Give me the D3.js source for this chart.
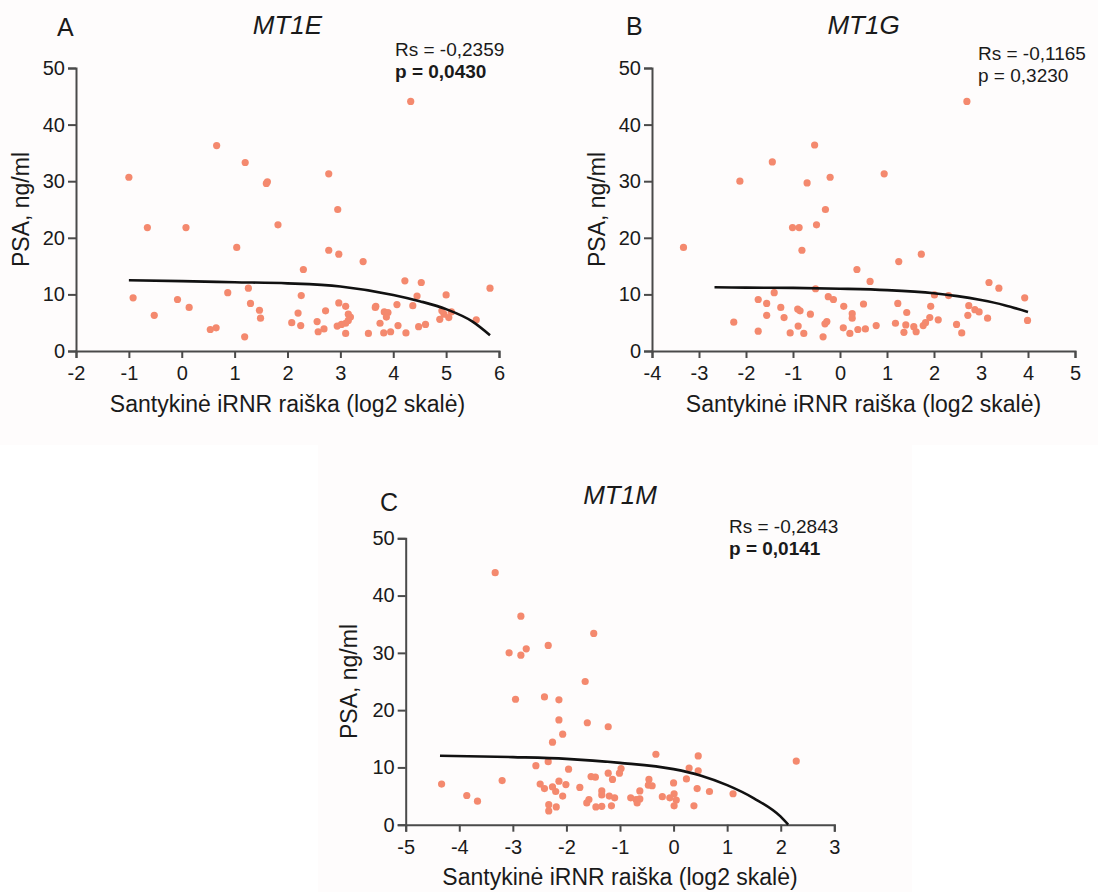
<!DOCTYPE html>
<html>
<head>
<meta charset="utf-8">
<script src="https://cdn.jsdelivr.net/npm/d3@7"></script>
<style>
  body { margin: 0; background: #ffffff; }
  svg text { font-family: "Liberation Sans", Arial, sans-serif; fill: #1a1a1a; }
</style>
</head>
<body>
<script>
// ---- data ----
var xTicksA = [-2, -1, 0, 1, 2, 3, 4, 5, 6];
var xTicksB = [-4, -3, -2, -1, 0, 1, 2, 3, 4, 5];
var xTicksC = [-5, -4, -3, -2, -1, 0, 1, 2, 3];
var yTicks = [0, 10, 20, 30, 40, 50];

var genes = ["MT1E", "MT1G", "MT1M"];
var letters = ["A", "B", "C"];
var rsText = ["Rs = -0,2359", "Rs = -0,1165", "Rs = -0,2843"];
var pText = ["p = 0,0430", "p = 0,3230", "p = 0,0141"];
var pBold = [true, false, true];

// MT1E points [log2 expression, PSA]
var pointsA = [
  [-1.0, 30.7], [0.66, 36.3], [1.2, 33.3], [1.62, 29.9], [1.6, 29.6], [4.33, 44.1],
  [2.78, 31.3], [2.95, 25.0], [-0.65, 21.8], [0.08, 21.8], [1.04, 18.3], [1.82, 22.3],
  [-0.92, 9.4], [-0.08, 9.1], [-0.52, 6.3], [0.14, 7.7], [0.87, 10.3], [1.26, 11.1],
  [1.3, 8.4], [1.47, 7.2], [1.49, 5.8], [0.54, 3.8], [0.65, 4.1], [1.19, 2.5],
  [2.78, 17.8], [2.97, 17.1], [3.43, 15.8], [2.3, 14.4], [4.22, 12.4], [4.53, 12.1],
  [5.83, 11.1], [2.26, 9.8], [4.45, 9.7], [5.0, 9.9], [2.97, 8.5], [3.1, 7.9],
  [2.72, 7.1], [3.67, 7.9], [3.66, 7.7], [4.07, 8.2], [4.37, 8.0], [3.83, 6.9],
  [3.9, 6.8], [3.87, 6.0], [2.2, 6.7], [3.15, 6.5], [3.19, 6.0], [3.15, 5.4],
  [3.1, 4.9], [3.02, 4.7], [2.94, 4.4], [2.56, 5.2], [2.08, 5.0], [2.25, 4.5],
  [2.69, 3.9], [2.58, 3.4], [3.1, 3.1], [3.53, 3.1], [3.82, 3.2], [3.95, 3.4],
  [4.09, 4.5], [4.24, 3.2], [3.75, 4.9], [4.48, 4.3], [4.61, 4.7], [4.88, 5.6],
  [4.96, 6.5], [5.05, 5.9], [5.1, 6.9], [5.57, 5.5], [4.92, 7.1]
];
// MT1G points
var pointsB = [
  [-2.13, 30.0], [-1.44, 33.4], [-0.54, 36.4], [-0.7, 29.7], [-0.21, 30.7], [-0.31, 25.0],
  [2.7, 44.1], [0.94, 31.3], [-3.33, 18.3], [-1.01, 21.8], [-0.87, 21.8], [-0.5, 22.3],
  [-0.81, 17.8], [-1.4, 10.3], [-0.52, 11.0], [-0.25, 9.6], [-1.74, 9.1], [-1.56, 8.4],
  [-1.26, 7.7], [-0.9, 7.4], [-0.85, 7.1], [-0.63, 6.5], [-1.56, 6.3], [-1.19, 5.9],
  [-2.26, 5.1], [-0.89, 4.4], [-0.32, 4.8], [-0.28, 5.2], [-1.74, 3.5], [-1.06, 3.2],
  [-0.77, 3.1], [-0.36, 2.5], [1.73, 17.1], [1.25, 15.8], [0.36, 14.4], [0.64, 12.3],
  [3.17, 12.1], [3.38, 11.1], [-0.14, 9.1], [3.93, 9.4], [2.01, 9.9], [2.31, 9.8],
  [0.08, 7.9], [0.5, 8.3], [1.23, 8.4], [1.93, 7.9], [2.74, 8.0], [2.87, 7.3],
  [2.96, 6.9], [0.26, 6.6], [0.26, 5.8], [1.42, 6.8], [2.72, 6.3], [1.91, 5.9],
  [2.09, 5.5], [3.14, 5.8], [3.99, 5.4], [1.18, 4.9], [1.4, 4.6], [0.07, 4.1],
  [0.38, 3.8], [0.54, 3.9], [0.77, 4.5], [1.57, 4.3], [1.77, 4.5], [1.82, 5.0],
  [1.62, 3.4], [1.36, 3.3], [0.21, 3.1], [2.48, 4.7], [2.59, 3.2]
];
// MT1M points
var pointsC = [
  [-3.33, 44.0], [-2.85, 36.4], [-1.49, 33.4], [-2.34, 31.3], [-3.07, 30.0], [-2.85, 29.6],
  [-2.75, 30.7], [-1.65, 25.0], [-2.41, 22.3], [-2.95, 21.9], [-2.14, 21.8], [-2.14, 18.3],
  [-1.61, 17.8], [-2.07, 15.8], [-1.22, 17.1], [-2.26, 14.4], [-4.33, 7.1], [-3.86, 5.1],
  [-3.66, 4.1], [-3.2, 7.7], [-2.57, 10.3], [-2.34, 11.0], [-1.96, 9.7], [-2.49, 7.1],
  [-2.41, 6.3], [-2.26, 6.6], [-2.14, 7.6], [-2.01, 7.0], [-2.2, 5.8], [-2.07, 5.0],
  [-2.33, 3.5], [-2.33, 2.4], [-2.19, 3.1], [-1.75, 6.5], [-1.54, 8.4], [-1.46, 8.3],
  [-1.22, 9.0], [-1.14, 7.9], [-1.58, 4.4], [-1.62, 3.8], [-1.34, 5.9], [-1.34, 5.2],
  [-1.2, 5.0], [-1.1, 4.7], [-1.45, 3.1], [-1.34, 3.2], [-1.16, 3.3], [-0.33, 12.3],
  [0.46, 12.0], [2.29, 11.1], [0.29, 9.9], [0.46, 9.4], [-0.98, 9.8], [-1.01, 9.0],
  [-0.46, 7.9], [-0.47, 6.9], [-0.4, 6.8], [0.24, 8.0], [0.0, 7.3], [-0.63, 5.9],
  [0.44, 6.3], [0.67, 5.8], [1.11, 5.4], [0.01, 5.4], [0.05, 4.3], [-0.07, 4.7],
  [-0.21, 4.9], [-0.8, 4.7], [-0.7, 4.4], [-0.68, 3.8], [-0.63, 4.5], [0.01, 3.3],
  [0.38, 3.3]
];

// fitted curves
var curveA = [[-1, 12.5], [0, 12.35], [1, 12.15], [2, 11.95], [3, 11.4], [4, 9.9], [4.5, 8.8], [5, 7.4], [5.5, 5.2], [5.83, 2.8]];
var curveB = [[-2.67, 11.25], [-2, 11.2], [-1, 11.15], [0, 11.0], [1, 10.75], [2, 10.2], [2.5, 9.7], [3, 9.0], [3.5, 8.1], [4, 6.9]];
var curveC = [[-4.36, 12.05], [-3, 11.8], [-2, 11.5], [-1, 10.8], [0, 9.7], [0.5, 8.6], [1, 6.9], [1.5, 4.6], [2, 1.4], [2.14, 0]];

// ---- layout ----
var W = 1098, H = 892;
var panels = [
  { pts: pointsA, fit: curveA, ticks: xTicksA, x0: 76, x1: 499, y0: 351, y1: 68,
    bg: [0, 0, 545, 445], letterX: 57, letterY: 36, titleY: 34, statX: 395, statY: 56, yTitleX: 29, xTitleY: 412 },
  { pts: pointsB, fit: curveB, ticks: xTicksB, x0: 652, x1: 1075, y0: 351, y1: 68,
    bg: [545, 0, 553, 445], letterX: 626, letterY: 35, titleY: 34, statX: 978, statY: 60, yTitleX: 605, xTitleY: 412 },
  { pts: pointsC, fit: curveC, ticks: xTicksC, x0: 405.7, x1: 834.3, y0: 824.7, y1: 538.3,
    bg: [318, 445, 594, 447], letterX: 380, letterY: 511, titleY: 504, statX: 729, statY: 533, yTitleX: 357, xTitleY: 885 }
];

var svg = d3.select("body").append("svg")
  .attr("width", W)
  .attr("height", H);

panels.forEach(function (p, i) {
  var x = d3.scaleLinear()
    .domain([p.ticks[0], p.ticks[p.ticks.length - 1]])
    .range([p.x0, p.x1]);
  var y = d3.scaleLinear()
    .domain([0, 50])
    .range([p.y0, p.y1]);

  svg.insert("rect", ":first-child")
    .attr("x", p.bg[0]).attr("y", p.bg[1])
    .attr("width", p.bg[2]).attr("height", p.bg[3])
    .attr("fill", "#fefcfc");

  var g = svg.append("g");

  // axes
  var xAxis = g.append("g")
    .attr("transform", "translate(0," + p.y0 + ")")
    .call(d3.axisBottom(x).tickValues(p.ticks).tickSize(7).tickPadding(8).tickFormat(d3.format("d")));
  var yAxis = g.append("g")
    .attr("transform", "translate(" + p.x0 + ",0)")
    .call(d3.axisLeft(y).tickValues(yTicks).tickSize(8).tickPadding(3));

  [xAxis, yAxis].forEach(function (ax) {
    ax.selectAll("path, line").attr("stroke", "#4a4a4a").attr("stroke-width", 2);
    ax.selectAll("text").style("font-size", "20px").attr("fill", "#1a1a1a");
  });
  // minus sign as plain hyphen like the original
  xAxis.selectAll("text").text(function (d) { return String(d); });

  // points
  g.selectAll("circle")
    .data(p.pts)
    .enter().append("circle")
    .attr("cx", function (d) { return x(d[0]); })
    .attr("cy", function (d) { return y(d[1]); })
    .attr("r", 3.6)
    .attr("fill", "#f4896e");

  // fit curve
  var line = d3.line()
    .x(function (d) { return x(d[0]); })
    .y(function (d) { return y(d[1]); })
    .curve(d3.curveMonotoneX);
  g.append("path")
    .datum(p.fit)
    .attr("d", line)
    .attr("fill", "none")
    .attr("stroke", "#111")
    .attr("stroke-width", 2.6);

  // labels
  g.append("text")
    .attr("x", p.letterX).attr("y", p.letterY)
    .style("font-size", "25px")
    .text(letters[i]);

  g.append("text")
    .attr("x", (p.x0 + p.x1) / 2).attr("y", p.titleY)
    .attr("text-anchor", "middle")
    .style("font-size", "26px")
    .style("font-style", "italic")
    .text(genes[i]);

  g.append("text")
    .attr("x", p.statX).attr("y", p.statY)
    .style("font-size", "19px")
    .text(rsText[i]);
  g.append("text")
    .attr("x", p.statX).attr("y", p.statY + 22)
    .style("font-size", "19px")
    .style("font-weight", pBold[i] ? "bold" : "normal")
    .text(pText[i]);

  g.append("text")
    .attr("transform", "translate(" + p.yTitleX + "," + (p.y0 + p.y1) / 2 + ") rotate(-90)")
    .attr("text-anchor", "middle")
    .style("font-size", "23px")
    .text("PSA, ng/ml");

  g.append("text")
    .attr("x", (p.x0 + p.x1) / 2).attr("y", p.xTitleY)
    .attr("text-anchor", "middle")
    .style("font-size", "23px")
    .text("Santykinė iRNR raiška (log2 skalė)");
});
</script>
</body>
</html>
